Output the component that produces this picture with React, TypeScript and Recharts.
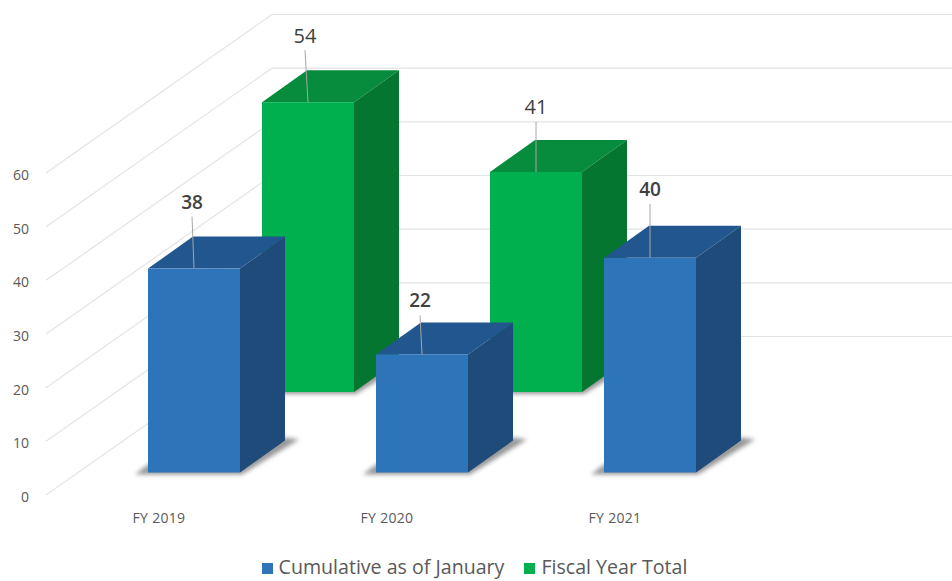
import { BarChart, Bar, XAxis, YAxis, CartesianGrid, Legend, LabelList } from "recharts";

const years = ["FY 2019", "FY 2020", "FY 2021"];
const cumulative = [38, 22, 40];
const fiscalTotal = [54, 41, null];
const yTicks = [0, 10, 20, 30, 40, 50, 60];

const chartData = years.map((year, i) => ({
  year,
  cumulative: cumulative[i],
  fiscalTotal: fiscalTotal[i],
}));

const DEPTH_X = 45;
const DEPTH_Y = 32;
const FONT = "'Open Sans', sans-serif";

const blue = { front: "#2E74B8", top: "#22568F", side: "#1F4B7A", dx: -22, dy: -22.5, fontSize: 19, weight: 600 };
const green = { front: "#00B04F", top: "#078B3D", side: "#05762F", dx: 206, dy: -103, fontSize: 20, weight: 400 };

// leader lengths differ per bar in the original: [text dx, lift above bar top]
const labelTweak: Record<number, [number, number]> = {
  38: [-2, 67],
  54: [-3, 67],
  22: [-2, 54],
  41: [0, 65],
  40: [0, 69],
};

function box(c: typeof blue) {
  return (props: any) => {
    const { x, y, width, height } = props;
    const l = x + c.dx;
    const r = l + width;
    const t = y + c.dy;
    const b = t + height;
    const pts = (a: number[][]) => a.map((p) => p.join(",")).join(" ");
    return (
      <g>
        <polygon
          points={pts([
            [l - 13, b + 2],
            [r + 2, b + 2],
            [r + DEPTH_X + 14, b - DEPTH_Y - 1],
            [r + DEPTH_X, b - DEPTH_Y - 3],
            [l, b - 8],
          ])}
          fill="#555"
          opacity={0.6}
          filter="url(#floorShadow)"
        />
        <polygon
          points={pts([
            [l, t],
            [l + DEPTH_X, t - DEPTH_Y],
            [r + DEPTH_X, t - DEPTH_Y],
            [r, t],
          ])}
          fill={c.top}
        />
        <polygon
          points={pts([
            [r, t],
            [r + DEPTH_X, t - DEPTH_Y],
            [r + DEPTH_X, b - DEPTH_Y],
            [r, b],
          ])}
          fill={c.side}
        />
        <rect x={l} y={t} width={width} height={height} fill={c.front} />
      </g>
    );
  };
}

function dataLabel(c: typeof blue) {
  return (props: any) => {
    const vb = props.viewBox ?? props;
    const value = Number(props.value);
    if (!value) return null;
    const [tdx, lift] = labelTweak[value] ?? [0, 67];
    const cx = vb.x + c.dx + vb.width / 2;
    const top = vb.y + c.dy;
    return (
      <g>
        <line x1={cx + tdx} y1={top - lift + 15} x2={cx} y2={top} stroke="#A6A6A6" strokeWidth={1} />
        <text
          x={cx + tdx}
          y={top - lift}
          textAnchor="middle"
          dominantBaseline="central"
          fontFamily={FONT}
          fontSize={c.fontSize}
          fontWeight={c.weight}
          fill="#404040"
        >
          {value}
        </text>
      </g>
    );
  };
}

// grid line runs up the side wall, then along the back wall
function wallLine(props: any) {
  const { x1, y1, key } = props;
  return (
    <polyline
      key={key}
      points={`${x1 + 1},${y1} ${x1 + 227},${y1 - 158.5} 952,${y1 - 158.5}`}
      fill="none"
      stroke="#E4E4E4"
      strokeWidth={1.2}
    />
  );
}

export default function App() {
  return (
    <div style={{ position: "absolute", left: 0, top: 0, width: 952, height: 581, background: "#fff" }}>
      <BarChart
        width={952}
        height={581}
        data={chartData}
        margin={{ top: 173, right: 223, bottom: 56, left: 0 }}
        barSize={92}
        barGap={22}
      >
        <defs>
          <filter id="floorShadow" x="-20%" y="-50%" width="140%" height="200%">
            <feGaussianBlur stdDeviation="2" />
          </filter>
        </defs>
        <CartesianGrid horizontal={wallLine} vertical={false} />
        <XAxis
          dataKey="year"
          height={30}
          axisLine={false}
          tickLine={false}
          tickMargin={12}
          tick={{ fontSize: 14, letterSpacing: 0.3, fill: "#595959", fontFamily: FONT, dy: 0 }}
        />
        <YAxis
          width={45}
          domain={[0, 60]}
          ticks={yTicks}
          axisLine={false}
          tickLine={false}
          tickMargin={10}
          tick={{ fontSize: 14, fill: "#595959", fontFamily: FONT, dy: 2 }}
        />
        <Bar dataKey="fiscalTotal" name="Fiscal Year Total" fill={green.front} shape={box(green)} isAnimationActive={false}>
          <LabelList dataKey="fiscalTotal" content={dataLabel(green)} />
        </Bar>
        <Bar dataKey="cumulative" name="Cumulative as of January" fill={blue.front} shape={box(blue)} isAnimationActive={false}>
          <LabelList dataKey="cumulative" content={dataLabel(blue)} />
        </Bar>
        <Legend
          layout="horizontal"
          verticalAlign="middle"
          align="center"
          iconType="square"
          iconSize={11}
          wrapperStyle={{ top: 553, left: 10, width: 949, fontFamily: FONT, fontSize: 19.6 }}
          formatter={(value: string) => (
            <span style={{ color: "#595959", marginLeft: 2, marginRight: 10 }}>{value}</span>
          )}
        />
      </BarChart>
    </div>
  );
}
